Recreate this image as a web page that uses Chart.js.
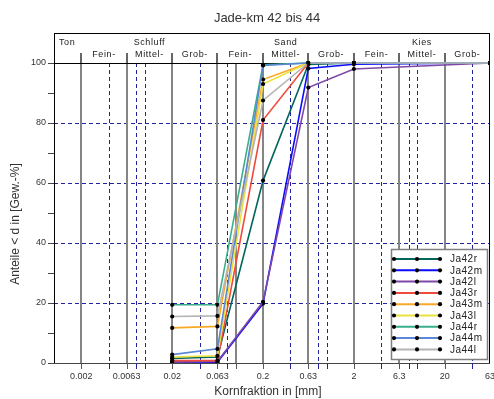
<!DOCTYPE html>
<html>
<head>
<meta charset="utf-8">
<script src="https://cdn.jsdelivr.net/npm/chart.js@4.4.1/dist/chart.umd.min.js"></script>
<style>
  html, body { margin: 0; padding: 0; background: #fff; }
  canvas { display: block; }
</style>
</head>
<body>
<canvas id="kornChart" width="494" height="399"></canvas>
<script>
// Kornfraktionen (mm) an denen gemessen wurde
const grainSizes = [0.02, 0.063, 0.2, 0.63, 2, 63];

// Summenkurven in Gew.-%
const ja42r = [1.5, 2.0, 60.8, 99.5, 100, 100];
const ja42m = [0.3, 0.3, 19.8, 98.2, 99.6, 100];
const ja42l = [0.3, 0.5, 20.4, 91.8, 98.0, 100];
const ja43r = [0.8, 0.8, 81.0, 100, 100, 100];
const ja43m = [11.7, 12.2, 94.5, 100, 100, 100];
const ja43l = [2.0, 2.4, 93.0, 100, 100, 100];
const ja44r = [19.4, 19.4, 99.4, 100, 100, 100];
const ja44m = [2.8, 4.7, 99.2, 100, 100, 100];
const ja44l = [15.5, 15.7, 87.5, 100, 100, 100];

const seriesNames = ['Ja42r', 'Ja42m', 'Ja42l', 'Ja43r', 'Ja43m', 'Ja43l', 'Ja44r', 'Ja44m', 'Ja44l'];
const seriesColors = ['#00665c', '#0a0aff', '#7f48a8', '#f04a3c', '#f8a828', '#ece23c', '#3aae8c', '#5a88d6', '#b4b4b4'];

// Achsen
const xTickValues = [0.002, 0.0063, 0.02, 0.063, 0.2, 0.63, 2, 6.3, 20, 63];
const xTickLabels = ['0.002', '0.0063', '0.02', '0.063', '0.2', '0.63', '2', '6.3', '20', '63'];
const yTickLabels = [0, 20, 40, 60, 80, 100];
const dashedGridX = [0.004, 0.008, 0.01, 0.04, 0.08, 0.4, 0.8, 1, 4, 8, 10, 40];
const solidGridX = [0.002, 0.0063, 0.02, 0.063, 0.1, 0.2, 0.63, 2, 6.3, 20];
const dashedGridY = [20, 40, 60, 80];

// Kopfzeile (Bodenarten)
const fractionBounds = [0.001, 0.002, 0.0063, 0.02, 0.063, 0.2, 0.63, 2, 6.3, 20, 63];
const subLabels = ['', 'Fein-', 'Mittel-', 'Grob-', 'Fein-', 'Mittel-', 'Grob-', 'Fein-', 'Mittel-', 'Grob-'];
const mainLabels = ['Ton', '', 'Schluff', '', '', 'Sand', '', '', 'Kies', ''];

const allSeries = [ja42r, ja42m, ja42l, ja43r, ja43m, ja43l, ja44r, ja44m, ja44l];

const FONT = '"Liberation Sans", Arial, sans-serif';

const frame = {
    id: 'frame',
    beforeDatasetsDraw(chart) {
        const ctx = chart.ctx;
        const xs = chart.scales.x;
        const ys = chart.scales.y;
        const a = chart.chartArea;
        const y0 = ys.getPixelForValue(0);
        const y100 = ys.getPixelForValue(100);

        ctx.save();
        // gestrichelte Raster
        ctx.strokeStyle = '#2323a0';
        ctx.lineWidth = 1;
        ctx.setLineDash([4, 3]);
        dashedGridX.forEach(v => {
            const x = Math.round(xs.getPixelForValue(v)) + 0.5;
            ctx.beginPath(); ctx.moveTo(x, y100); ctx.lineTo(x, y0); ctx.stroke();
        });
        dashedGridY.forEach(v => {
            const y = Math.round(ys.getPixelForValue(v)) + 0.5;
            ctx.beginPath(); ctx.moveTo(a.left, y); ctx.lineTo(a.right, y); ctx.stroke();
        });
        ctx.setLineDash([]);

        // Fraktionsgrenzen
        ctx.strokeStyle = '#858585';
        ctx.lineWidth = 2;
        solidGridX.forEach(v => {
            const x = Math.round(xs.getPixelForValue(v));
            ctx.beginPath(); ctx.moveTo(x, y100); ctx.lineTo(x, y0); ctx.stroke();
        });

        // Rahmen
        ctx.strokeStyle = '#000';
        ctx.lineWidth = 1;
        ctx.strokeRect(a.left + 0.5, a.top + 0.5, a.right - a.left - 1, a.bottom - a.top);
        ctx.beginPath();
        ctx.moveTo(a.left, Math.round(y100) + 0.5); ctx.lineTo(a.right, Math.round(y100) + 0.5);
        ctx.stroke();
        ctx.strokeStyle = '#444';
        ctx.beginPath();
        ctx.moveTo(a.left - 6, Math.round(y0) + 0.5); ctx.lineTo(a.right, Math.round(y0) + 0.5);
        ctx.stroke();

        // Kopfzeile
        ctx.strokeStyle = '#333';
        ctx.lineWidth = 1.5;
        for (let i = 1; i < fractionBounds.length - 1; i++) {
            const x = Math.round(xs.getPixelForValue(fractionBounds[i]));
            ctx.beginPath(); ctx.moveTo(x, a.top + 20); ctx.lineTo(x, y100); ctx.stroke();
        }
        ctx.fillStyle = '#1a1a1a';
        ctx.font = '9px ' + FONT;
        ctx.letterSpacing = '0.6px';
        ctx.textBaseline = 'middle';
        for (let i = 0; i < subLabels.length; i++) {
            const lo = Math.log10(fractionBounds[i]);
            const hi = Math.log10(fractionBounds[i + 1]);
            const xc = xs.getPixelForValue(Math.pow(10, (lo + hi) / 2));
            ctx.textAlign = 'center';
            if (subLabels[i]) ctx.fillText(subLabels[i], xc, a.top + 22);
            if (mainLabels[i]) {
                if (i === 0) {
                    ctx.textAlign = 'left';
                    ctx.fillText(mainLabels[i], a.left + 5, a.top + 10);
                } else {
                    ctx.fillText(mainLabels[i], xc, a.top + 10);
                }
            }
        }
        ctx.letterSpacing = '0px';

        // Achsenticks und Beschriftungen
        ctx.font = '9px ' + FONT;
        ctx.fillStyle = '#333';
        ctx.textAlign = 'right';
        ctx.strokeStyle = '#444';
        ctx.lineWidth = 1;
        for (let v = 0; v <= 100; v += 10) {
            const y = Math.round(ys.getPixelForValue(v)) + 0.5;
            ctx.beginPath(); ctx.moveTo(a.left - 6, y); ctx.lineTo(a.left, y); ctx.stroke();
        }
        yTickLabels.forEach(v => ctx.fillText(String(v), a.left - 8, ys.getPixelForValue(v)));

        ctx.strokeStyle = '#555';
        solidGridX.forEach(v => {
            const x = Math.round(xs.getPixelForValue(v)) + 0.5;
            ctx.beginPath(); ctx.moveTo(x, y0); ctx.lineTo(x, y0 + 6); ctx.stroke();
        });
        ctx.strokeStyle = '#2323a0';
        dashedGridX.forEach(v => {
            const x = Math.round(xs.getPixelForValue(v)) + 0.5;
            ctx.beginPath(); ctx.moveTo(x, y0); ctx.lineTo(x, y0 + 6); ctx.stroke();
        });
        ctx.textAlign = 'center';
        xTickValues.forEach((v, i) => ctx.fillText(xTickLabels[i], xs.getPixelForValue(v), y0 + 14));

        // Titel
        ctx.fillStyle = '#333';
        ctx.font = '13px ' + FONT;
        ctx.fillText('Jade-km 42 bis 44', 267, 18);
        ctx.font = '12px ' + FONT;
        ctx.fillText('Kornfraktion in [mm]', 268, 392);
        ctx.save();
        ctx.translate(16, 224);
        ctx.rotate(-Math.PI / 2);
        ctx.fillText('Anteile < d in [Gew.-%]', 0, 0);
        ctx.restore();
        ctx.restore();
    },
    afterDatasetsDraw(chart) {
        // Legende
        const ctx = chart.ctx;
        ctx.save();
        ctx.fillStyle = '#fff';
        ctx.fillRect(391, 249, 96, 110);
        ctx.strokeStyle = '#808080';
        ctx.lineWidth = 1.5;
        ctx.strokeRect(391.5, 249.5, 96, 110);
        ctx.font = '10px ' + FONT;
        ctx.letterSpacing = '0.5px';
        ctx.textAlign = 'left';
        ctx.textBaseline = 'middle';
        seriesNames.forEach((name, i) => {
            const y = 259 + i * 11.3;
            ctx.strokeStyle = seriesColors[i];
            ctx.lineWidth = 2;
            ctx.beginPath(); ctx.moveTo(394, y); ctx.lineTo(440, y); ctx.stroke();
            ctx.fillStyle = '#000';
            [394, 417, 440].forEach(x => {
                ctx.beginPath(); ctx.arc(x, y, 2.1, 0, Math.PI * 2); ctx.fill();
            });
            ctx.fillStyle = '#222';
            ctx.fillText(name, 450, y + 0.5);
        });
        ctx.restore();
    }
};

new Chart(document.getElementById('kornChart'), {
    type: 'line',
    data: {
        datasets: seriesNames.map((name, i) => ({
            label: name,
            data: grainSizes.map((g, j) => ({ x: g, y: allSeries[i][j] })),
            borderColor: seriesColors[i],
            backgroundColor: seriesColors[i],
            borderWidth: 1.6,
            pointRadius: 2.1,
            pointBackgroundColor: '#000',
            pointBorderWidth: 0,
            tension: 0,
            order: seriesNames.length - i
        }))
    },
    options: {
        responsive: false,
        animation: false,
        layout: { padding: { left: 54, right: 3, top: 33, bottom: 36 } },
        scales: {
            x: { type: 'logarithmic', min: 0.001, max: 63, display: false },
            y: { type: 'linear', min: 0, max: 110, display: false }
        },
        plugins: {
            legend: { display: false },
            title: { display: false },
            tooltip: { enabled: false }
        }
    },
    plugins: [frame]
});
</script>
</body>
</html>
